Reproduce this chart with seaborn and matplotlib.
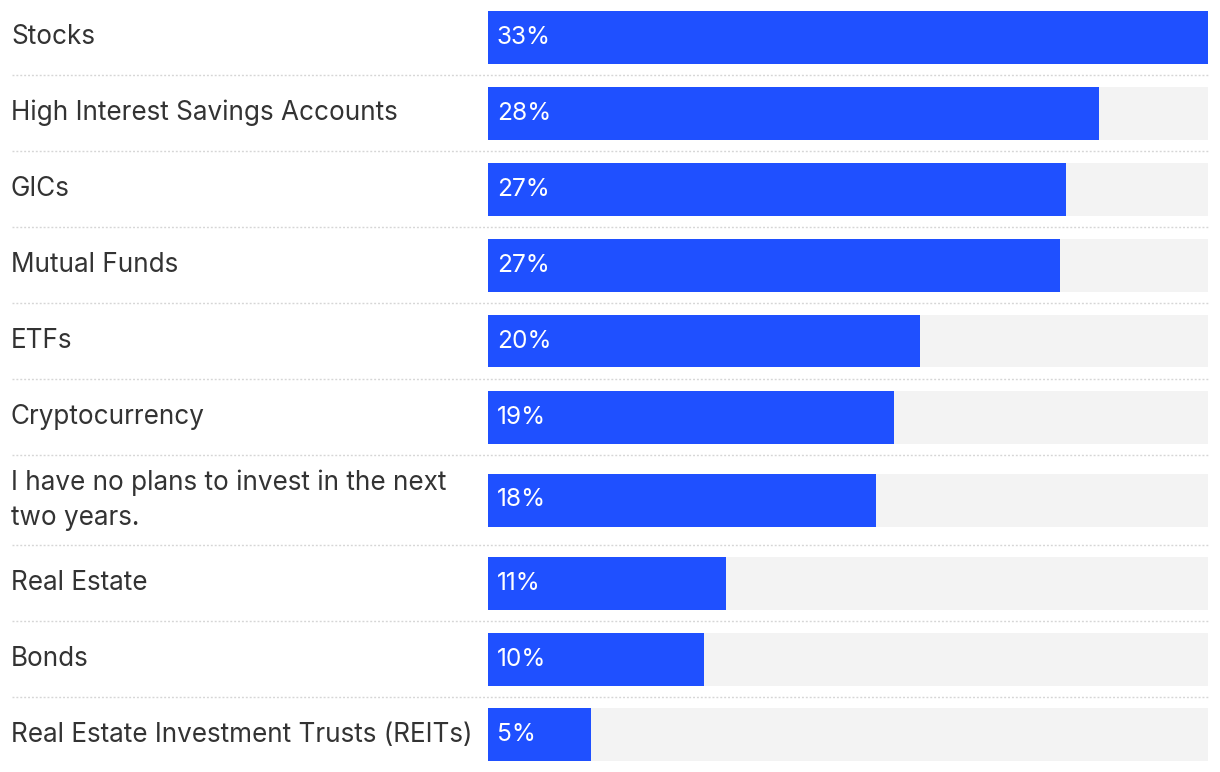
import matplotlib
matplotlib.use("Agg")
import matplotlib.pyplot as plt
import matplotlib.transforms as mtransforms
from matplotlib.lines import Line2D
import seaborn as sns
import pandas as pd

categories = [
    "Stocks",
    "High Interest Savings Accounts",
    "GICs",
    "Mutual Funds",
    "ETFs",
    "Cryptocurrency",
    "I have no plans to invest in the next\ntwo years.",
    "Real Estate",
    "Bonds",
    "Real Estate Investment Trusts (REITs)",
]
values = [33.0, 28.0, 26.5, 26.2, 19.8, 18.6, 17.8, 10.9, 9.9, 4.7]
value_labels = ["33%", "28%", "27%", "27%", "20%", "19%", "18%", "11%", "10%", "5%"]

BLUE = "#1F50FF"
TRACK = "#F3F3F3"
TEXT = "#333333"
SEP = "#D6D6D6"

sns.set_theme(style="white")
plt.rcParams["font.family"] = ["Inter", "DejaVu Sans"]

W, H = 1220, 772
fig = plt.figure(figsize=(W / 100, H / 100), dpi=100)

row_px = [75, 76, 76, 76, 76, 76, 90, 76, 76, 75]
gs = fig.add_gridspec(len(categories), 1, height_ratios=row_px,
                      left=488 / W, right=1208 / W, top=1.0, bottom=0.0, hspace=0)

vmax = max(values)
bar_px = 53
label_x = 11 / W
for i, (cat, val, lab) in enumerate(zip(categories, values, value_labels)):
    ax = fig.add_subplot(gs[i])
    df = pd.DataFrame({"cat": [cat], "val": [val], "track": [vmax]})
    w = bar_px / row_px[i]
    sns.barplot(data=df, x="track", y="cat", color=TRACK, width=w, ax=ax,
                saturation=1, linewidth=0)
    sns.barplot(data=df, x="val", y="cat", color=BLUE, width=w, ax=ax,
                saturation=1, linewidth=0)
    ax.set_xlim(0, vmax)
    ax.set_ylim(0.5, -0.5)
    ax.set_axis_off()
    trans = mtransforms.blended_transform_factory(fig.transFigure, ax.transData)
    ax.text(label_x, 0, cat, transform=trans, ha="left", va="center",
            fontsize=18.8, color=TEXT, linespacing=1.45)
    off = mtransforms.offset_copy(ax.transData, fig=fig, x=9, y=0, units="dots")
    ax.text(0, 0, lab, transform=off, ha="left", va="center",
            fontsize=17.6, color="white", fontweight="normal")

# dotted separators between rows
y = H
for rp in row_px[:-1]:
    y -= rp
    fig.add_artist(Line2D([12 / W, 1208 / W], [y / H, y / H], transform=fig.transFigure,
                          color=SEP, lw=1.0, linestyle=(0, (1.4, 1.4))))

fig.savefig("out.png", dpi=100)
